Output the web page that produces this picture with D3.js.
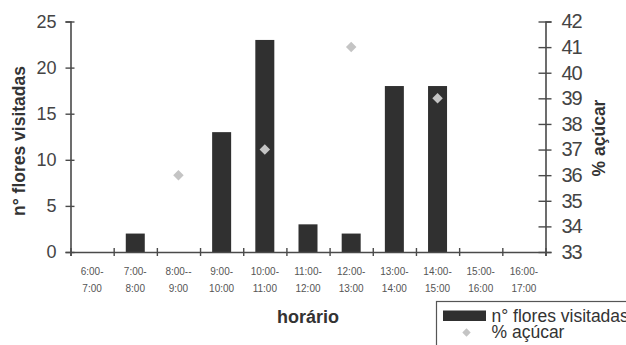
<!DOCTYPE html>
<html>
<head>
<meta charset="utf-8">
<script src="https://cdn.jsdelivr.net/npm/d3@7"></script>
<style>
  html, body { margin: 0; padding: 0; background: #fff; }
  svg { display: block; font-family: "Liberation Sans", Arial, sans-serif; }
</style>
</head>
<body>
<svg id="chart" width="626" height="345"></svg>
<script>
// Hourly intervals (two-line tick labels)
const categories = ["6-7", "7-8", "8-9", "9-10", "10-11", "11-12", "12-13", "13-14", "14-15", "15-16", "16-17"];
const labelStart = ["6:00-", "7:00-", "8:00--", "9:00-", "10:00-", "11:00-", "12:00-", "13:00-", "14:00-", "15:00-", "16:00-"];
const labelEnd = ["7:00", "8:00", "9:00", "10:00", "11:00", "12:00", "13:00", "14:00", "15:00", "16:00", "17:00"];

// Number of flowers visited per interval
const flowers = [0, 2, 0, 13, 23, 3, 2, 18, 18, 0, 0];
// Sugar percentage measured (null = not measured)
const sugar = [null, null, 36, null, 37, null, 41, null, 39, null, null];

const leftTicks = [0, 5, 10, 15, 20, 25];
const rightTicks = [33, 34, 35, 36, 37, 38, 39, 40, 41, 42];

const svg = d3.select("#chart");
const axisColor = "#4a4a4a";
const textColor = "#444";
const fontFam = "'Liberation Sans', Arial, sans-serif";

const x0 = 70.5, x1 = 545.5, yBottom = 252, yTop = 21.5;

const x = d3.scaleBand().domain(categories).range([x0, x1]).padding(0);
const xEdge = d3.scaleLinear().domain([0, categories.length]).range([x0, x1]);
const yL = d3.scaleLinear().domain([0, 25]).range([yBottom, yTop]);
const yR = d3.scaleLinear().domain([33, 42]).range([yBottom, yTop]);

// Bars
const barW = x.bandwidth() * 0.44;
svg.append("g").selectAll("rect")
  .data(flowers.map((v, i) => ({ c: categories[i], v })).filter(d => d.v > 0))
  .join("rect")
  .attr("x", d => x(d.c) + (x.bandwidth() - barW) / 2)
  .attr("y", d => yL(d.v))
  .attr("width", barW)
  .attr("height", d => yL(0) - yL(d.v))
  .attr("fill", "#303030");

// Left axis
const gL = svg.append("g").attr("transform", `translate(${x0},0)`)
  .call(d3.axisLeft(yL).tickValues(leftTicks).tickSize(5).tickPadding(9));
// Right axis
const gR = svg.append("g").attr("transform", `translate(${x1},0)`)
  .call(d3.axisRight(yR).tickValues(rightTicks).tickSize(6).tickPadding(10));
// Bottom axis with ticks on the interval boundaries
const gB = svg.append("g").attr("transform", `translate(0,${yBottom})`)
  .call(d3.axisBottom(xEdge).tickValues(d3.range(0, categories.length + 1)).tickSize(4).tickFormat(""));

[gL, gR, gB].forEach(g => {
  g.attr("font-family", fontFam);
  g.select(".domain").attr("stroke", axisColor).attr("stroke-width", 1.6);
  g.selectAll(".tick line").attr("stroke", axisColor).attr("stroke-width", 1.4);
});
gL.selectAll(".tick line").attr("x1", 4).attr("x2", -5);
gR.selectAll(".tick line").attr("x1", -7).attr("x2", 6);
gB.selectAll(".tick line").attr("y1", -4).attr("y2", 4);

gL.selectAll(".tick text").attr("font-size", 18).attr("fill", textColor);
gR.selectAll(".tick text").attr("font-size", 20).attr("fill", textColor)
  .attr("letter-spacing", -1.2);

// Two-line interval labels
const lab = svg.append("g").attr("fill", "#555").attr("font-size", 10).attr("text-anchor", "middle");
categories.forEach((c, i) => {
  const cx = x(c) + x.bandwidth() / 2;
  lab.append("text").attr("x", cx).attr("y", 275).text(labelStart[i]);
  lab.append("text").attr("x", cx).attr("y", 292).text(labelEnd[i]);
});

// Sugar markers
const diamond = d3.symbol().type(d3.symbolDiamond2).size(70);
svg.append("g").selectAll("path")
  .data(sugar.map((v, i) => ({ c: categories[i], v })).filter(d => d.v !== null))
  .join("path")
  .attr("d", diamond)
  .attr("transform", d => `translate(${x(d.c) + x.bandwidth() / 2},${yR(d.v)})`)
  .attr("fill", "#c4c4c4");

// Axis titles
svg.append("text")
  .attr("transform", "translate(25,141) rotate(-90)")
  .attr("text-anchor", "middle").attr("font-size", 17.5).attr("font-weight", "bold")
  .attr("fill", "#333").text("n° flores visitadas");
svg.append("text")
  .attr("transform", "translate(605,138) rotate(-90)")
  .attr("text-anchor", "middle").attr("font-size", 17.5).attr("font-weight", "bold")
  .attr("fill", "#333").text("% açúcar");
svg.append("text")
  .attr("x", 308).attr("y", 323)
  .attr("text-anchor", "middle").attr("font-size", 18).attr("font-weight", "bold")
  .attr("fill", "#333").text("horário");

// Legend
const lg = svg.append("g");
lg.append("rect").attr("x", 436.5).attr("y", 301.5).attr("width", 200).attr("height", 60)
  .attr("fill", "#fff").attr("stroke", "#555").attr("stroke-width", 1.2);
lg.append("rect").attr("x", 443).attr("y", 310.5).attr("width", 43).attr("height", 10.5).attr("fill", "#303030");
lg.append("path").attr("d", d3.symbol().type(d3.symbolDiamond2).size(45))
  .attr("transform", "translate(466.5,332.5)").attr("fill", "#c4c4c4");
lg.append("text").attr("x", 491.5).attr("y", 322).attr("font-size", 17.5).attr("fill", "#333").text("n° flores visitadas");
lg.append("text").attr("x", 491.5).attr("y", 337.5).attr("font-size", 17.5).attr("fill", "#333").text("% açúcar");
</script>
</body>
</html>
